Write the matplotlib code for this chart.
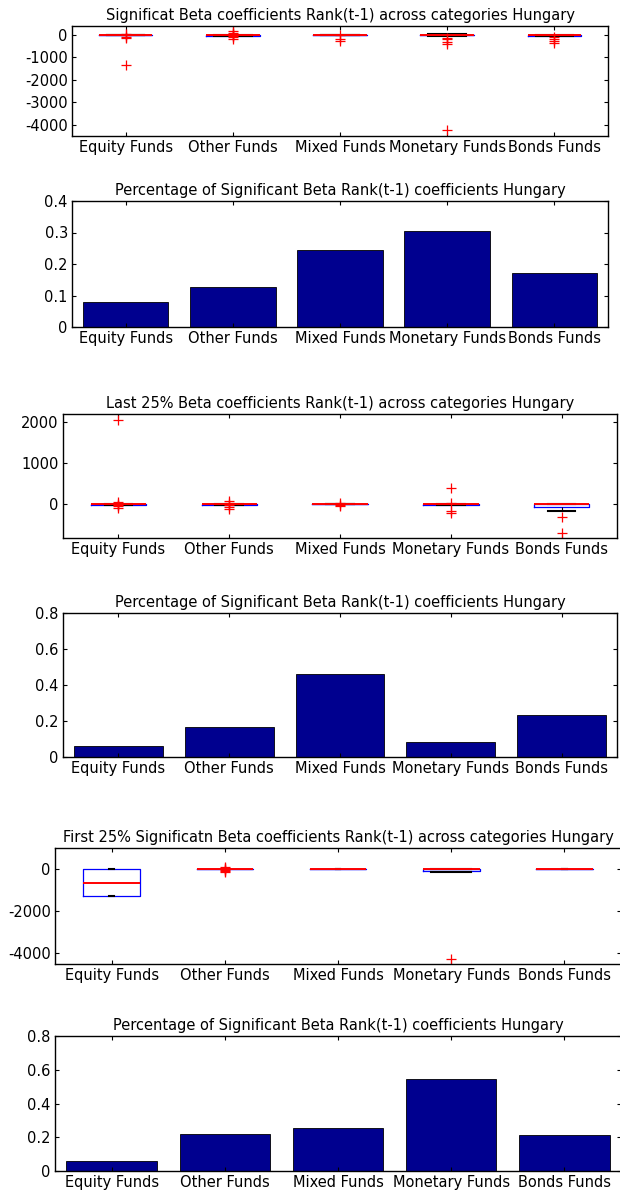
import matplotlib
matplotlib.use('Agg')
import matplotlib.pyplot as plt
from matplotlib.ticker import FormatStrFormatter, MultipleLocator

plt.rcParams['font.family'] = ['DejaVu Sans']
plt.rcParams['axes.unicode_minus'] = False

categories = ['Equity Funds', 'Other Funds', 'Mixed Funds', 'Monetary Funds', 'Bonds Funds']

# Significant beta coefficients (box summaries)
sig_med = [0, 0, 0, 0, 0]
sig_q1 = [-10, -25, -5, -20, -25]
sig_q3 = [5, 10, 5, 10, 0]
sig_lo = [-10, -30, -5, -25, -30]
sig_hi = [5, 10, 5, 60, 0]
sig_fliers = [[30, -20, -80, -130, -1320],
              [160, 90, 40, 20, -40, -90, -160],
              [10, -180, -270],
              [-120, -200, -300, -380, -4250],
              [-110, -190, -290, -360]]
sig_pct = [0.08, 0.128, 0.245, 0.305, 0.173]

# Last 25%
last_med = [0, 0, 0, 0, 0]
last_q1 = [-25, -25, -5, -20, -70]
last_q3 = [0, 0, 5, 0, 0]
last_lo = [-25, -25, -5, -20, -170]
last_hi = [0, 0, 5, 0, 0]
last_fliers = [[2050, 40, 10, -20, -60, -110],
               [60, 20, -30, -80, -130],
               [15, -20, -60],
               [380, 30, -170, -220],
               [-330, -720]]
last_pct = [0.06, 0.165, 0.46, 0.085, 0.235]

# First 25%
first_med = [-680, 0, 0, 0, 0]
first_q1 = [-1270, 0, 0, -100, 0]
first_q3 = [0, 10, 0, 0, 0]
first_lo = [-1290, 0, 0, -130, 0]
first_hi = [0, 10, 0, 0, 0]
first_fliers = [[], [120, 60, 20, -40, -100, -150], [], [-4250], []]
first_pct = [0.062, 0.22, 0.255, 0.545, 0.215]

FS = 10.5
W, H = 620, 1192


def add_ax(fig, x0, x1, y0, y1):
    # pixel box (top-left origin) -> figure fraction
    return fig.add_axes([x0 / W, 1 - y1 / H, (x1 - x0) / W, (y1 - y0) / H])


def style_ax(ax):
    ax.tick_params(direction='in', length=3, width=0.8, top=True, right=True,
                   labelsize=FS, pad=3)
    for s in ax.spines.values():
        s.set_linewidth(1.0)
    ax.set_xticks(range(1, 6))
    ax.set_xticklabels(categories)
    ax.set_xlim(0.5, 5.5)
    ax.yaxis.set_major_formatter(FormatStrFormatter('%g'))


def draw_box(ax, title, med, q1, q3, lo, hi, fliers, ylim, step, capw):
    stats = []
    for i in range(5):
        stats.append(dict(med=med[i], q1=q1[i], q3=q3[i], whislo=lo[i],
                          whishi=hi[i], fliers=fliers[i]))
    ax.bxp(stats, positions=range(1, 6), widths=0.5, capwidths=capw,
           boxprops=dict(color='blue', linewidth=0.9),
           medianprops=dict(color='red', linewidth=1.4, zorder=4),
           whiskerprops=dict(color='black', linestyle='--', linewidth=0.8),
           capprops=dict(color='black', linewidth=1.5),
           flierprops=dict(marker='+', markeredgecolor='red', markersize=7,
                           markeredgewidth=0.9, linestyle='none'))
    style_ax(ax)
    ax.set_ylim(*ylim)
    ax.yaxis.set_major_locator(MultipleLocator(step))
    ax.set_title(title, fontsize=FS, pad=4)


def draw_bar(ax, title, vals, top):
    ax.bar(range(1, 6), vals, width=0.8, color='#00008F', edgecolor='black',
           linewidth=0.6)
    style_ax(ax)
    ax.set_ylim(0, top)
    ax.yaxis.set_major_locator(MultipleLocator(top / 4))
    ax.set_title(title, fontsize=FS, pad=4)


fig = plt.figure(figsize=(6.2, 11.92), dpi=100)

ax1 = add_ax(fig, 72, 608, 26, 136)
draw_box(ax1, 'Significat Beta coefficients Rank(t-1) across categories Hungary',
         sig_med, sig_q1, sig_q3, sig_lo, sig_hi, sig_fliers,
         (-4500, 400), 1000, [0.35] * 5)

ax2 = add_ax(fig, 72, 608, 201, 327)
draw_bar(ax2, 'Percentage of Significant Beta Rank(t-1) coefficients Hungary',
         sig_pct, 0.4)

ax3 = add_ax(fig, 63, 617, 414, 538)
draw_box(ax3, 'Last 25% Beta coefficients Rank(t-1) across categories Hungary',
         last_med, last_q1, last_q3, last_lo, last_hi, last_fliers,
         (-830, 2190), 1000, [0.25] * 5)

ax4 = add_ax(fig, 63, 617, 613, 757)
draw_bar(ax4, 'Percentage of Significant Beta Rank(t-1) coefficients Hungary',
         last_pct, 0.8)

ax5 = add_ax(fig, 55, 621, 848, 964)
draw_box(ax5, 'First 25% Significatn Beta coefficients Rank(t-1) across categories Hungary',
         first_med, first_q1, first_q3, first_lo, first_hi, first_fliers,
         (-4500, 1000), 2000, [0.04, 0.04, 0.04, 0.35, 0.04])

ax6 = add_ax(fig, 55, 621, 1036, 1171)
draw_bar(ax6, 'Percentage of Significant Beta Rank(t-1) coefficients Hungary',
         first_pct, 0.8)

fig.savefig('out.png', dpi=100, facecolor='white')
